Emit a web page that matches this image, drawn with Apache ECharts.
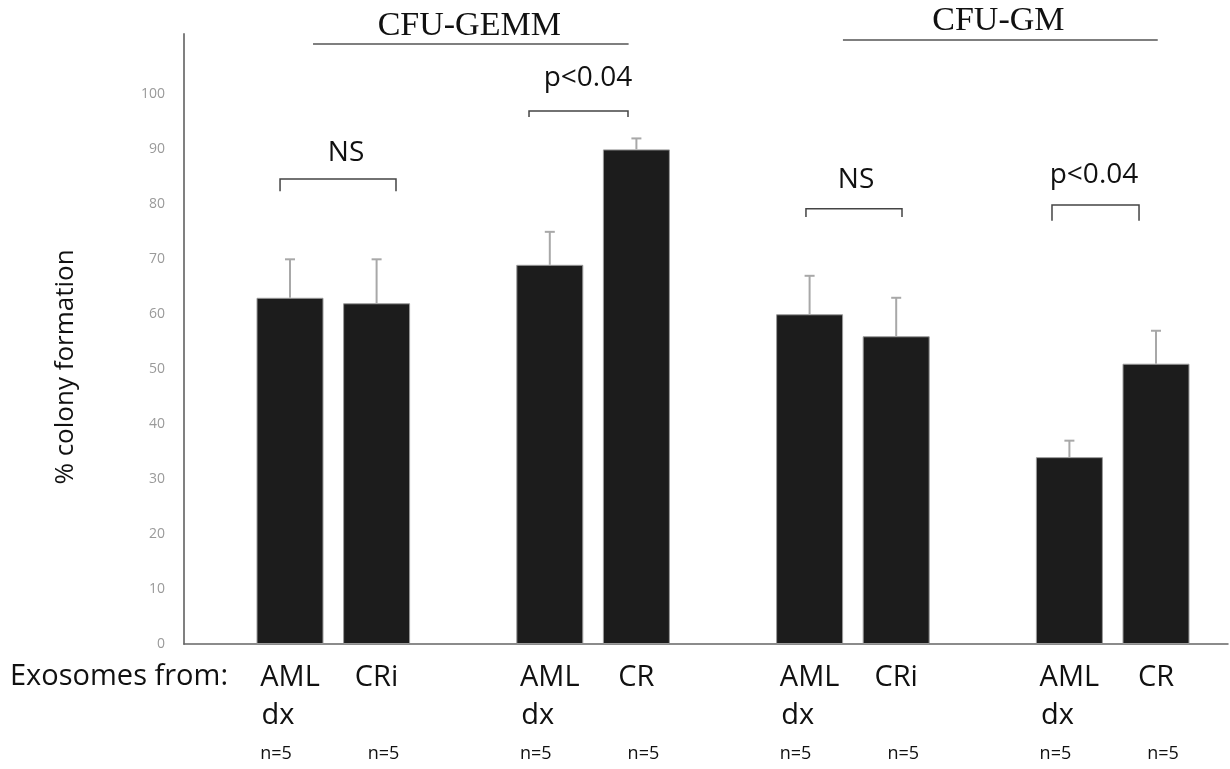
<!DOCTYPE html>
<html>
<head>
<meta charset="utf-8">
<script src="https://cdn.jsdelivr.net/npm/echarts@6/dist/echarts.min.js"></script>
<style>html,body{margin:0;padding:0;background:#fff}#c{width:1230px;height:769px}</style>
</head>
<body>
<div id="c"></div>
<script>
// ---- data ----
const categories = ['GEMM-AMLdx','GEMM-CRi','gap1','GEMM-AMLdx2','GEMM-CR','gap2','GM-AMLdx','GM-CRi','gap3','GM-AMLdx2','GM-CR'];
const labelTop = ['AML','CRi','','AML','CR','','AML','CRi','','AML','CR'];
const labelSub = ['dx','','','dx','','','dx','','','dx',''];
const nLabels = ['n=5','n=5','','n=5','n=5','','n=5','n=5','','n=5','n=5'];
const values = [63, 62, null, 69, 90, null, 60, 56, null, 34, 51];
const errHigh = [70, 70, null, 75, 92, null, 67, 63, null, 37, 57];
const yTicks = [0, 10, 20, 30, 40, 50, 60, 70, 80, 90, 100];
// brackets: [xStart, xEnd, yLine, yTickEnd, xText, yText, label]  (x in category-slot units)
const brackets = [
  [-0.115, 1.224, 84.6, 82.4, 0.647, 89.4, 'NS'],
  [2.76, 3.903, 97.0, 95.9, 3.44, 103.0, 'p<0.04'],
  [5.958, 7.067, 79.2, 77.7, 6.536, 84.4, 'NS'],
  [8.799, 9.804, 79.9, 77.0, 9.284, 85.3, 'p<0.04']
];
// groups: [xStart, xEnd, yLine, xText, yText, label]
const groups = [
  [0.266, 3.91, 109.2, 2.07, 112.4, 'CFU-GEMM'],
  [6.385, 10.02, 109.9, 8.18, 113.3, 'CFU-GM']
];

const chart = echarts.init(document.getElementById('c'));
const FONT = 'Open Sans';
const errData = values.map((v, i) => v == null ? null : [i, v, errHigh[i]]).filter(d => d);

chart.setOption({
  animation: false,
  backgroundColor: '#fff',
  grid: [
    {left: 184, right: 2, top: 34, bottom: 125},
    {left: 246.7, right: 30.7, top: 34, bottom: 125}
  ],
  xAxis: [
    {gridIndex: 0, type: 'value', min: 0, max: 1,
     axisLine: {show: true, onZero: false, lineStyle: {color: '#666', width: 1.5}},
     axisTick: {show: false}, axisLabel: {show: false}, splitLine: {show: false}},
    {gridIndex: 1, type: 'category', data: categories,
     axisLine: {show: false}, axisTick: {show: false}, splitLine: {show: false},
     axisLabel: {
       interval: 0, margin: 15, color: '#111', fontFamily: FONT,
       formatter: function (val, idx) {
         if (!labelTop[idx]) return '';
         const isAml = !!labelSub[idx];
         const sub = isAml ? '{d|' + labelSub[idx] + '}' : '{t| }';
         const n = isAml ? '{nl|' + nLabels[idx] + '}' : '{nr|' + nLabels[idx] + '}';
         return '{t|' + labelTop[idx] + '}\n' + sub + '\n' + n;
       },
       rich: {
         t: {fontSize: 29, lineHeight: 38, fontFamily: FONT, color: '#111'},
         d: {fontSize: 29, lineHeight: 38, fontFamily: FONT, color: '#111', padding: [0, 24, 0, 0]},
         nl: {fontSize: 18, lineHeight: 38, fontFamily: FONT, color: '#111', padding: [0, 28, 0, 0]},
         nr: {fontSize: 18, lineHeight: 38, fontFamily: FONT, color: '#111', padding: [0, 0, 0, 14]}
       }
     }},
    {gridIndex: 1, type: 'value', min: -0.5, max: 10.5, show: false}
  ],
  yAxis: [
    {gridIndex: 0, type: 'value', min: 0, max: 111, interval: 10,
     axisLine: {show: true, lineStyle: {color: '#808080', width: 2}},
     axisTick: {show: false}, splitLine: {show: false},
     axisLabel: {margin: 19, color: '#9a9a9a', fontSize: 14, fontFamily: FONT,
       formatter: v => yTicks.indexOf(v) >= 0 ? String(v) : ''}},
    {gridIndex: 1, type: 'value', min: 0, max: 111, show: false}
  ],
  graphic: [
    {type: 'text', left: 10, top: 662, style: {text: 'Exosomes from:', fontSize: 29, fontFamily: FONT, fill: '#111'}},
    {type: 'text', x: 66, y: 367, rotation: Math.PI / 2,
     style: {text: '% colony formation', fontSize: 26, fontFamily: FONT, fill: '#111', align: 'center', verticalAlign: 'middle'}}
  ],
  series: [
    {type: 'bar', xAxisIndex: 1, yAxisIndex: 1, data: values, barWidth: 67,
     itemStyle: {color: '#1c1c1c', borderColor: '#9a9a9a', borderWidth: 1}},
    {type: 'custom', xAxisIndex: 2, yAxisIndex: 1, data: errData, z: 5,
     renderItem: function (params, api) {
       const p0 = api.coord([api.value(0), api.value(1)]);
       const p1 = api.coord([api.value(0), api.value(2)]);
       const st = {stroke: '#a8a8a8', lineWidth: 2};
       return {type: 'group', children: [
         {type: 'line', shape: {x1: p0[0], y1: p0[1], x2: p1[0], y2: p1[1]}, style: st},
         {type: 'line', shape: {x1: p1[0] - 5, y1: p1[1], x2: p1[0] + 5, y2: p1[1]}, style: st}
       ]};
     }},
    {type: 'custom', xAxisIndex: 2, yAxisIndex: 1, data: brackets, z: 5, clip: false,
     renderItem: function (params, api) {
       const d = brackets[params.dataIndex];
       const a = api.coord([d[0], d[2]]), b = api.coord([d[1], d[2]]);
       const ae = api.coord([d[0], d[3]]), be = api.coord([d[1], d[3]]);
       const t = api.coord([d[4], d[5]]);
       return {type: 'group', children: [
         {type: 'polyline', shape: {points: [[ae[0], ae[1]], [a[0], a[1]], [b[0], b[1]], [be[0], be[1]]]},
          style: {stroke: '#444', lineWidth: 1.5, fill: null}},
         {type: 'text', x: t[0], y: t[1], style: {text: d[6], fontSize: 28, fontFamily: FONT, fill: '#111', align: 'center', verticalAlign: 'middle'}}
       ]};
     }},
    {type: 'custom', xAxisIndex: 2, yAxisIndex: 1, data: groups, z: 5, clip: false,
     renderItem: function (params, api) {
       const d = groups[params.dataIndex];
       const a = api.coord([d[0], d[2]]), b = api.coord([d[1], d[2]]);
       const t = api.coord([d[3], d[4]]);
       return {type: 'group', children: [
         {type: 'line', shape: {x1: a[0], y1: a[1], x2: b[0], y2: b[1]}, style: {stroke: '#555', lineWidth: 1.5}},
         {type: 'text', x: t[0], y: t[1], style: {text: d[5], fontSize: 34, fontFamily: 'Liberation Serif', fill: '#111', align: 'center', verticalAlign: 'middle'}}
       ]};
     }}
  ]
});
</script>
</body>
</html>
